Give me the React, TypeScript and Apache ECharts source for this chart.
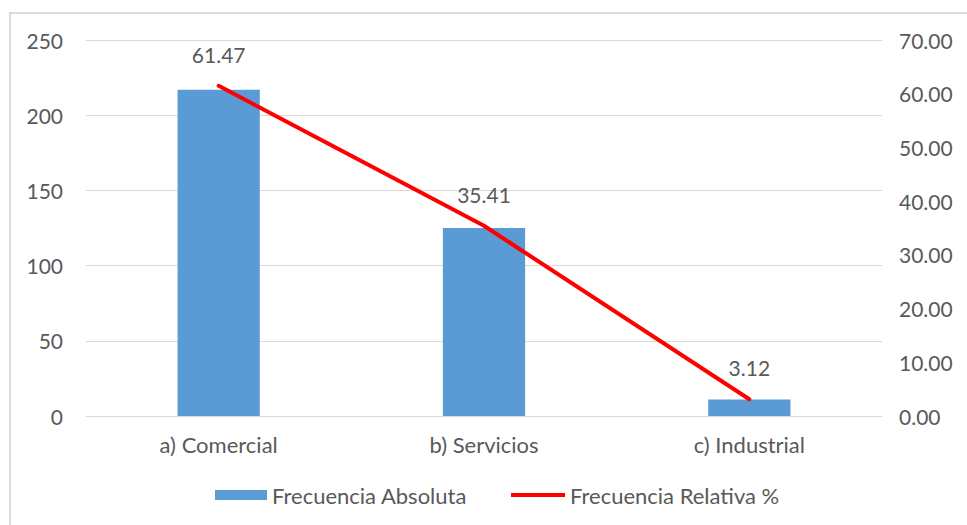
import React, { useEffect, useRef } from "react";
import * as echarts from "echarts";

const categories = ["a) Comercial", "b) Servicios", "c) Industrial"];
const absoluta = [217, 125, 11];
const relativa = [61.47, 35.41, 3.12];
const leftTicks = { min: 0, max: 250, interval: 50 };
const rightTicks = { min: 0, max: 70, interval: 10 };

const FONT = "Lato, 'Open Sans', sans-serif";
const TEXT = "#595959";

export default function App() {
  const ref = useRef<HTMLDivElement>(null);
  useEffect(() => {
    document.body.style.margin = "0";
    const chart = echarts.init(ref.current!, null, { renderer: "svg" });
    chart.setOption({
      animation: false,
      backgroundColor: "#ffffff",
      textStyle: { fontFamily: FONT, color: TEXT },
      graphic: [
        {
          type: "rect",
          shape: { x: 10, y: 13, width: 980, height: 540 },
          style: { fill: "none", stroke: "#D9D9D9", lineWidth: 2 },
          silent: true,
          z: -10,
        },
      ],
      grid: { left: 86, right: 85, top: 40, bottom: 109, containLabel: false },
      legend: [
        {
          top: 484,
          left: 215,
          padding: 0,
          itemWidth: 52,
          itemHeight: 10,
          textStyle: { fontSize: 22, color: TEXT, fontFamily: FONT },
          data: [{ name: "Frecuencia Absoluta", icon: "rect" }],
        },
        {
          top: 484,
          left: 511,
          padding: 0,
          itemWidth: 54,
          itemHeight: 4,
          textStyle: { fontSize: 22, color: TEXT, fontFamily: FONT },
          data: [{ name: "Frecuencia Relativa %", icon: "rect" }],
        },
      ],
      xAxis: {
        type: "category",
        data: categories,
        axisLine: { show: true, lineStyle: { color: "#D9D9D9", width: 1 } },
        axisTick: { show: false },
        axisLabel: { fontSize: 22, color: TEXT, margin: 17, fontFamily: FONT },
      },
      yAxis: [
        {
          type: "value",
          min: leftTicks.min,
          max: leftTicks.max,
          interval: leftTicks.interval,
          axisLine: { show: false },
          axisTick: { show: false },
          splitLine: { lineStyle: { color: "#D9D9D9", width: 1 } },
          axisLabel: { fontSize: 21, color: TEXT, margin: 23, fontFamily: FONT },
        },
        {
          type: "value",
          position: "right",
          min: rightTicks.min,
          max: rightTicks.max,
          interval: rightTicks.interval,
          axisLine: { show: false },
          axisTick: { show: false },
          splitLine: { show: false },
          axisLabel: {
            fontSize: 21,
            color: TEXT,
            margin: 17,
            fontFamily: FONT,
            formatter: (v: number) => v.toFixed(2),
          },
        },
      ],
      series: [
        {
          name: "Frecuencia Absoluta",
          type: "bar",
          data: absoluta,
          barWidth: "31%",
          itemStyle: { color: "#5B9BD5" },
          yAxisIndex: 0,
        },
        {
          name: "Frecuencia Relativa %",
          type: "line",
          data: relativa,
          yAxisIndex: 1,
          symbol: "circle",
          symbolSize: 2,
          showSymbol: true,
          lineStyle: { color: "#FF0000", width: 4, cap: "round" },
          itemStyle: { color: "#FF0000" },
          label: {
            show: true,
            position: "top",
            distance: 20,
            fontSize: 21,
            color: TEXT,
            fontFamily: FONT,
            formatter: (p: any) => p.value.toFixed(2),
          },
        },
      ],
    });
    return () => chart.dispose();
  }, []);
  return <div ref={ref} style={{ width: 967, height: 525 }} />;
}
